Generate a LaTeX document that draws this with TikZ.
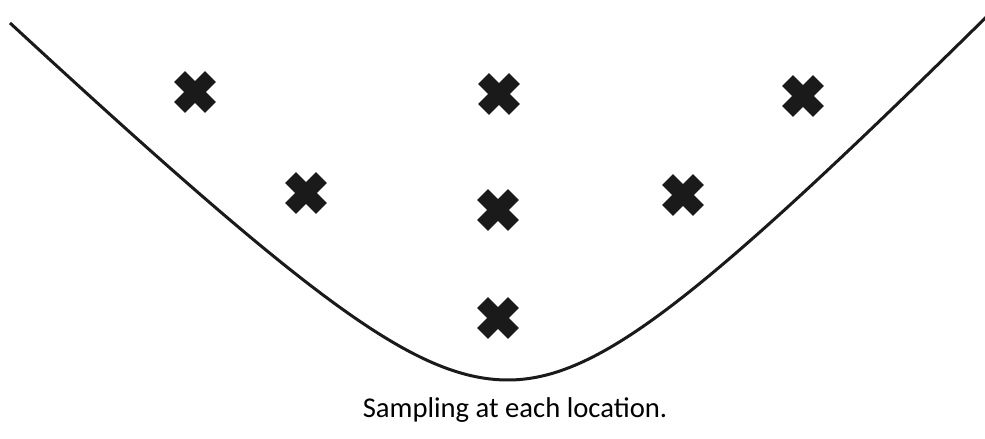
\documentclass[tikz,border=0pt]{standalone}
\usepackage{fontspec}
\setmainfont{Carlito}
\usepackage{tikz}
\usetikzlibrary{shapes.misc,positioning}
\definecolor{markDark}{RGB}{26,26,26}

\begin{document}
\begin{tikzpicture}[x=0.02cm, y=-0.02cm,
  sample/.style={cross out, draw=markDark, line width=0.31cm, minimum size=0.62cm, inner sep=0pt, outer sep=0pt},
  valley/.style={line width=0.06cm, color=markDark}]
\useasboundingbox (0,0) rectangle (985,439);

% the valley
\draw[valley, smooth, domain=10:990, samples=120] plot (\x, {380 - (\x<508 ? 144.7 : 155)*(sqrt(1+((\x-508)/150)^2)-1)});

% sampling locations
\node[sample] (s1) at (195,92) {};
\node[sample] (s2) at (499,94) {};
\node[sample] (s3) at (803,96) {};
\node[sample] (s4) at (306,193) {};
\node[sample] (s5) at (498,210) {};
\node[sample] (s6) at (683,195) {};
\node[sample] (s7) at (498,318) {};

\node[anchor=base, font=\fontsize{16.3}{19}\selectfont] (caption) at (515,418) {Sampling at each location.};
\end{tikzpicture}
\end{document}
